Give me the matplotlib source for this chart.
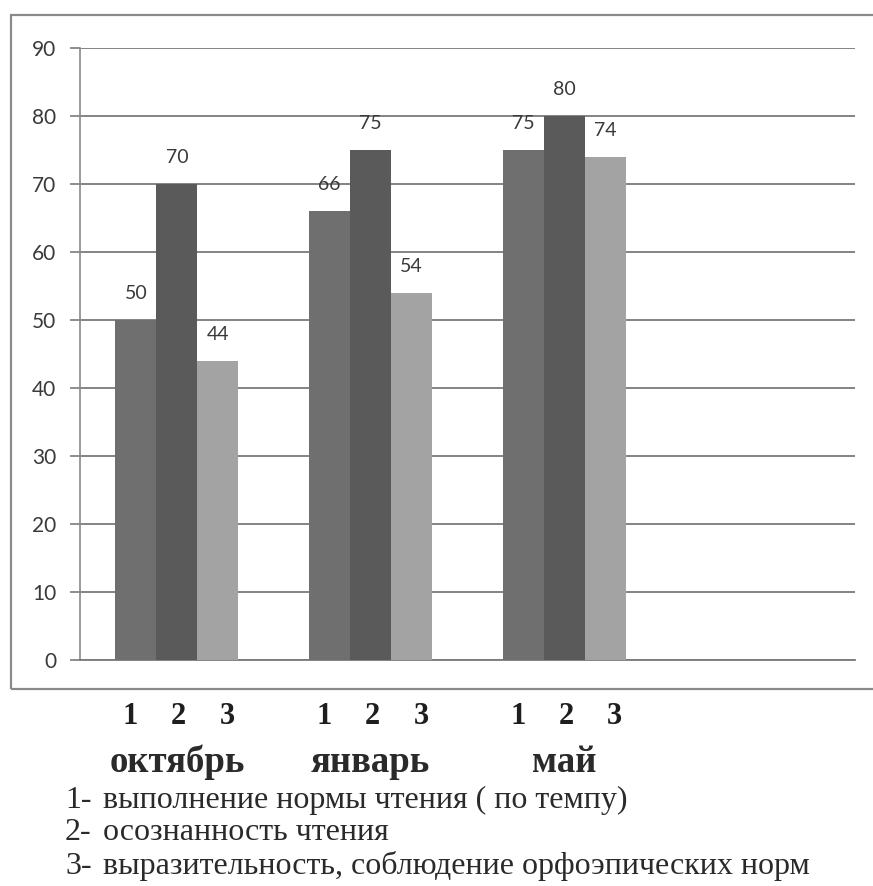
import matplotlib
matplotlib.use('Agg')
import matplotlib.pyplot as plt
import matplotlib.transforms as mtransforms
from matplotlib.patches import Rectangle
import numpy as np

# данные диаграммы
months = ['октябрь', 'январь', 'май']
criteria = ['1', '2', '3']
s1 = [50, 66, 75]   # выполнение нормы чтения
s2 = [70, 75, 80]   # осознанность чтения
s3 = [44, 54, 74]   # выразительность
legend_lines = ['выполнение нормы чтения ( по темпу)',
                'осознанность чтения',
                'выразительность, соблюдение орфоэпических норм']
yticks = list(range(0, 100, 10))

W, H = 873, 886
fig = plt.figure(figsize=(W / 100, H / 100), dpi=100)
fig.patch.set_facecolor('white')

def fx(px):
    return px / W

def fy(py):
    return 1 - py / H

# рамка вокруг диаграммы
box = Rectangle((fx(11), fy(689)), fx(900) - fx(11), fy(15) - fy(689),
                transform=fig.transFigure, fill=False, edgecolor='#8a8a8a',
                linewidth=1.6, clip_on=False)
fig.patches.append(box)

ax = fig.add_axes([fx(80), fy(660), fx(855) - fx(80), fy(48) - fy(660)])
x = np.arange(len(months))
w = 0.212
colors = ['#6f6f6f', '#5a5a5a', '#a3a3a3']
series = [s1, s2, s3]
for i, (vals, c) in enumerate(zip(series, colors)):
    xs = x + (i - 1) * w
    ax.bar(xs, vals, width=w, color=c, zorder=3)
    for xi, v in zip(xs, vals):
        ax.annotate(str(v), (xi, v), xytext=(0, 19), textcoords='offset points',
                    ha='center', va='center', fontsize=14, color='#3a3a3a',
                    family='Lato', zorder=4)

ax.set_xlim(-0.5, 3.5)
ax.set_ylim(0, 90)
ax.set_yticks(yticks)
ax.set_xticks([])
ax.yaxis.grid(True, color='#7a7a7a', linewidth=1.3, zorder=0)
for s in ['top', 'right']:
    ax.spines[s].set_visible(False)
ax.spines['left'].set_color('#8a8a8a')
ax.spines['bottom'].set_color('#7a7a7a')
ax.spines['left'].set_linewidth(1.2)
ax.spines['bottom'].set_linewidth(1.3)
ax.tick_params(axis='y', length=7, color='#7a7a7a', width=1.2, pad=10,
               labelsize=15, labelcolor='#3a3a3a')
for lbl in ax.get_yticklabels():
    lbl.set_family('Lato')

# подписи под осью
trans = mtransforms.blended_transform_factory(ax.transData, fig.transFigure)
for gi in range(len(months)):
    for i, c in enumerate(criteria):
        ax.text(x[gi] + (i - 1) * 0.25 + 0.01, fy(717), c, transform=trans,
                ha='center', va='center', fontsize=22, fontweight='bold',
                family='Liberation Serif', color='#1e1e1e')
    ax.text(x[gi], fy(762), months[gi], transform=trans, ha='center',
            va='center', fontsize=26.5, fontweight='bold',
            family='Liberation Serif', color='#2a2a2a')

for i, line in enumerate(legend_lines):
    yy = fy(800 + i * 33)
    fig.text(fx(65), yy, f'{i + 1}-', ha='left', va='center', fontsize=23,
             family='Liberation Serif', color='#2a2a2a')
    fig.text(fx(103), yy, line, ha='left', va='center', fontsize=23,
             family='Liberation Serif', color='#2a2a2a')

fig.savefig('out.png', dpi=100)
